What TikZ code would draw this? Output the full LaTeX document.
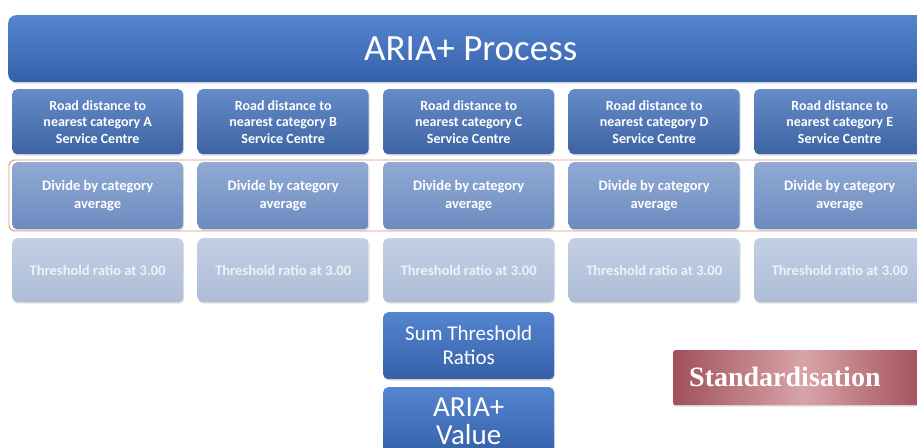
\documentclass[tikz,border=0pt]{standalone}
\usepackage{fontspec}
\setmainfont{Carlito}
\newfontfamily\serifbold{Liberation Serif}
\usetikzlibrary{shadows}
\definecolor{titletop}{HTML}{5585D0}
\definecolor{titlebot}{HTML}{3560A8}
\definecolor{roadtop}{HTML}{658BC8}
\definecolor{roadbot}{HTML}{3D63A3}
\definecolor{divtop}{HTML}{90AAD4}
\definecolor{divbot}{HTML}{6C8BBF}
\definecolor{thrtop}{HTML}{C3CFE3}
\definecolor{thrbot}{HTML}{ADBDD8}
\definecolor{thrtext}{HTML}{EEF2F8}
\definecolor{frameline}{HTML}{D9968A}
\definecolor{stdleft}{HTML}{A0505A}
\definecolor{stdmid}{HTML}{D8A4A8}
\definecolor{stdright}{HTML}{9E4A52}
\tikzset{
  boxbase/.style={rounded corners=5pt, minimum width=171pt, inner sep=1pt,
    align=center, text=white, anchor=north west,
    drop shadow={shadow xshift=1pt, shadow yshift=-1.5pt, opacity=0.25}},
  roadbox/.style={boxbase, minimum height=65pt, top color=roadtop, bottom color=roadbot,
    font=\bfseries\fontsize{14}{16.5}\selectfont},
  divbox/.style={boxbase, minimum height=67pt, top color=divtop, bottom color=divbot,
    font=\bfseries\fontsize{14.5}{17.5}\selectfont},
  thrbox/.style={boxbase, minimum height=64pt, top color=thrtop, bottom color=thrbot,
    text=thrtext, font=\bfseries\fontsize{14.5}{16}\selectfont},
  sumbox/.style={boxbase, minimum height=67pt, top color=titletop, bottom color=titlebot,
    font=\fontsize{21}{24}\selectfont},
}
\begin{document}
\begin{tikzpicture}[x=1pt,y=-1pt]
\clip (0,0) rectangle (917,447);
\fill[white] (0,0) rectangle (917,447);

% heading bar
\node[boxbase, rounded corners=8pt, minimum width=925pt, minimum height=67pt,
  top color=titletop, bottom color=titlebot, font=\fontsize{37}{42}\selectfont]
  (title) at (8,15) {ARIA+ Process};

% frame round the second row
\draw[frameline, line width=0.9pt, rounded corners=6pt] (9,160) rectangle (930,231);

% five columns
\foreach \c/\x in {A/12, B/197.5, C/383, D/568.5, E/754} {
  \node[roadbox] (road\c) at (\x,89) {Road distance to\\nearest category \c\\Service Centre};
  \node[divbox] (div\c) at (\x,162) {Divide by category\\average};
  \node[thrbox] (thr\c) at (\x,238) {Threshold ratio at 3.00};
}

% totals below the middle column
\node[sumbox] (sum) at (383,312) {Sum Threshold\\Ratios};
\node[sumbox, minimum height=68pt, font=\fontsize{29}{28}\selectfont,
  inner sep=0pt] (value) at (383,387) {ARIA+\\Value};

% standardisation band
\node[rounded corners=2pt, minimum width=260pt, minimum height=55pt, anchor=north west,
  left color=stdleft, right color=stdright, middle color=stdmid,
  drop shadow={shadow xshift=1pt, shadow yshift=-1.5pt, opacity=0.25}]
  (stdband) at (673,350) {};
\node[anchor=west, text=white, inner sep=0pt,
  font=\serifbold\bfseries\fontsize{28}{30}\selectfont]
  (stdtext) at (689,377) {Standardisation};
\end{tikzpicture}
\end{document}
